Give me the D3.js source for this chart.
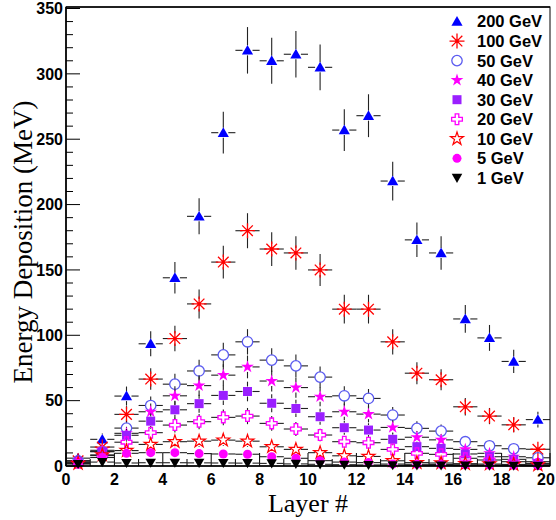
<!DOCTYPE html>
<html><head><meta charset="utf-8">
<script src="https://cdn.jsdelivr.net/npm/d3@7"></script>
<style>body{margin:0;background:#fff}svg{display:block}</style></head>
<body><svg id="c" width="556" height="520"></svg>
<script>
const layers = [0.5,1.5,2.5,3.5,4.5,5.5,6.5,7.5,8.5,9.5,10.5,11.5,12.5,13.5,14.5,15.5,16.5,17.5,18.5,19.5];
const seriesNames = ["200 GeV","100 GeV","50 GeV","40 GeV","30 GeV","20 GeV","10 GeV","5 GeV","1 GeV"];
const v200 = [6,20.4,53.5,93.5,144,191,255,318,310,315,305,257,268,218,173,163,112.5,98,80,35.5];
const e200 = [2.6,4.5,7.3,9.6,12,13.8,16,17.8,17.6,17.7,17.5,16,16.4,14.8,13.2,12.8,10.6,9.9,8.9,6];
const v100 = [4,14.5,39.5,66.5,97.5,124,156,180,166,163,150,120,120,95,71,66,45.3,38.2,31.5,12.8];
const e100 = [2,3.8,6.3,8.2,9.8,11.1,12.5,13.4,12.9,12.8,12.2,11,11,9.7,8.4,8.1,6.7,6.2,5.7,3.6];
const v50 = [4,11,29,46.3,62.6,72.7,85,95,81,76.6,68,53.7,51.7,39,28.8,26.7,18.6,15.5,13.2,6.3];
const e50 = [2,3.3,5.3,6.8,7.9,8.5,9.2,9.7,9,8.7,8.2,7.3,7.2,6.2,5.4,5.1,4.3,3.9,3.6,2.5];
const v40 = [3,12,25,41.5,53.7,61.5,69.5,75.8,65,60,53,41.5,39.7,29.5,22,20,12.7,9.7,7.1,3.3];
const e40 = [1.7,3.5,5,6.4,7.3,7.9,8.3,8.7,8.1,7.7,7.3,6.4,6.3,5.4,4.7,4.5,3.6,3.1,2.7,1.8];
const v30 = [3,11,23.5,34.3,43,47.7,54,57,48,44,37.7,29.3,27.5,20.4,14.8,13.5,9.2,7.1,5.1,2];
const e30 = [1.7,3.3,4.8,5.8,6.6,6.9,7.3,7.5,6.9,6.6,6.1,5.4,5.2,4.5,3.9,3.7,3,2.7,2.3,1.5];
const v20 = [2.5,8,18.2,25.5,31.3,33.9,37.2,38.2,32.6,28.3,23.7,18.6,17.8,12.7,9.7,8.9,5.9,4.6,3.3,1.5];
const e20 = [1.6,2.8,4.3,5,5.6,5.8,6.1,6.2,5.7,5.3,4.8,4.3,4.2,3.6,3.1,3,2.4,2.1,1.8,1.2];
const v10 = [2,8.5,11.8,16.5,18.6,19,19.8,19,14.7,12.7,10.2,7.8,7.3,4,2.6,2.3,1.8,1.5,1.2,0.8];
const e10 = [1.4,2.9,3.5,4,4.3,4.4,4.4,4.4,3.8,3.6,3.2,2.8,2.8,2.1,1.9,1.8,1.4,1.3,1.1,0.9];
const v5 = [2,6.5,9.7,10.2,10.2,9.5,9.2,9,7.1,5.9,4.1,3,2.6,1.5,1.3,1.2,1,0.8,0.6,0.5];
const e5 = [1.4,2.5,3.1,3.2,3.2,3.1,3,3,2.7,2.4,2,1.8,1.6,1.2,1.1,1.1,1,0.9,0.8,0.7];
const v1 = [1.5,3,2.3,2.5,2.5,2.4,2.3,2.2,2,1.6,1.3,1,0.8,0.6,0.5,0.4,0.3,0.3,0.2,0.2];
const e1 = [1.2,1.7,1.5,1.6,1.6,1.5,1.5,1.5,1.4,1.3,1.1,1,0.9,0.8,0.7,0.6,0.5,0.5,0.4,0.4];
const yTicks = [0,50,100,150,200,250,300,350];
const xTicks = [0,2,4,6,8,10,12,14,16,18,20];

const values = [v200,v100,v50,v40,v30,v20,v10,v5,v1];
const errors = [e200,e100,e50,e40,e30,e20,e10,e5,e1];
const styles = [
  {type:"tri", color:"#0000ff"},
  {type:"ast", color:"#ff0000"},
  {type:"ocircle", color:"#5b5bf0"},
  {type:"star", color:"#ff00ff"},
  {type:"square", color:"#9a1fff"},
  {type:"ocross", color:"#ff00ff"},
  {type:"ostar", color:"#ff0000"},
  {type:"circle", color:"#ff00ff"},
  {type:"dtri", color:"#000000"}
];

const svg = d3.select("#c");
const L = 66, R = 550, T = 8.5, B = 466;
const x = d3.scaleLinear().domain([0,20]).range([L,R]);
const y = d3.scaleLinear().domain([0,350]).range([B,T]);

function drawMarker(g, st, cx, cy) {
  const t = `translate(${cx},${cy})`;
  if (st.type === "tri") {
    g.append("path").attr("d", d3.symbol(d3.symbolTriangle, 54)()).attr("transform", t + " translate(0,1)").attr("fill", st.color);
  } else if (st.type === "dtri") {
    g.append("path").attr("d", d3.symbol(d3.symbolTriangle, 48)()).attr("transform", t + " rotate(180) translate(0,1)").attr("fill", st.color);
  } else if (st.type === "ast") {
    const r = 7.5; let d = "";
    [0,45,90,135].forEach(a => {
      const rad = a*Math.PI/180, dx = r*Math.cos(rad), dy = r*Math.sin(rad);
      d += `M${-dx},${-dy}L${dx},${dy}`;
    });
    g.append("path").attr("d", d).attr("transform", t).attr("stroke", st.color).attr("stroke-width", 1.3).attr("fill","none");
    g.append("circle").attr("cx", cx).attr("cy", cy).attr("r", 1.6).attr("fill", st.color);
  } else if (st.type === "ocircle") {
    g.append("circle").attr("cx", cx).attr("cy", cy).attr("r", 5.2).attr("fill","none").attr("stroke", st.color).attr("stroke-width", 1.3);
  } else if (st.type === "circle") {
    g.append("circle").attr("cx", cx).attr("cy", cy).attr("r", 4.5).attr("fill", st.color);
  } else if (st.type === "square") {
    g.append("rect").attr("x", cx-4.5).attr("y", cy-4.5).attr("width", 9).attr("height", 9).attr("fill", st.color);
  } else if (st.type === "star") {
    g.append("path").attr("d", d3.symbol(d3.symbolStar, 50)()).attr("transform", t).attr("fill", st.color);
  } else if (st.type === "ostar") {
    g.append("path").attr("d", d3.symbol(d3.symbolStar, 52)()).attr("transform", t).attr("fill","none").attr("stroke", st.color).attr("stroke-width", 1.2);
  } else if (st.type === "ocross") {
    g.append("path").attr("d", d3.symbol(d3.symbolCross, 64)()).attr("transform", t).attr("fill","none").attr("stroke", st.color).attr("stroke-width", 1.3);
  }
}

// ticks
const tg = svg.append("g").attr("stroke","#000").attr("stroke-width",1);
d3.range(0,351,10).forEach(v => {
  const len = v % 50 === 0 ? 14 : 7;
  tg.append("line").attr("x1",L).attr("x2",L+len).attr("y1",y(v)).attr("y2",y(v));
});
d3.range(0,21,1).forEach(v => {
  const len = v % 2 === 0 ? 13 : 7;
  tg.append("line").attr("x1",x(v)).attr("x2",x(v)).attr("y1",B).attr("y2",B-len);
});

// data
const dg = svg.append("g");
const gap = 5;
values.forEach((vals, si) => {
  const st = styles[si];
  const g = dg.append("g");
  const bars = g.append("g").attr("stroke","#222").attr("stroke-width",1.1);
  vals.forEach((v, i) => {
    const cx = x(layers[i]), cy = y(v);
    const xl = x(layers[i]-0.5), xr = x(layers[i]+0.5);
    const yt = y(v + errors[si][i]), yb = Math.min(B, y(v - errors[si][i]));
    if (cx - xl > gap) bars.append("line").attr("x1",xl).attr("x2",cx-gap).attr("y1",cy).attr("y2",cy);
    if (xr - cx > gap) bars.append("line").attr("x1",cx+gap).attr("x2",xr).attr("y1",cy).attr("y2",cy);
    if (cy - yt > gap) bars.append("line").attr("x1",cx).attr("x2",cx).attr("y1",yt).attr("y2",cy-gap);
    if (yb - cy > gap) bars.append("line").attr("x1",cx).attr("x2",cx).attr("y1",cy+gap).attr("y2",yb);
  });
  vals.forEach((v, i) => drawMarker(g, st, x(layers[i]), y(v)));
});

// frame
svg.append("rect").attr("x",L).attr("y",7).attr("width",R-L).attr("height",B-7)
  .attr("fill","none").attr("stroke","#000").attr("stroke-width",1);
svg.append("line").attr("x1",L).attr("x2",L).attr("y1",7).attr("y2",B).attr("stroke","#000").attr("stroke-width",1.6);
svg.append("line").attr("x1",L).attr("x2",R).attr("y1",B).attr("y2",B).attr("stroke","#000").attr("stroke-width",1.6);
svg.append("line").attr("x1",L).attr("x2",R).attr("y1",7).attr("y2",7).attr("stroke","#000").attr("stroke-width",1.6);

// tick labels
const lf = "'Liberation Sans', Arial, sans-serif";
yTicks.forEach(v => {
  svg.append("text").attr("x", L-3).attr("y", y(v)).attr("dy","0.36em")
    .attr("text-anchor","end").attr("font-family",lf).attr("font-weight","bold").attr("font-size",16).text(v);
});
xTicks.forEach(v => {
  svg.append("text").attr("x", Math.min(x(v), 546)).attr("y", 485)
    .attr("text-anchor","middle").attr("font-family",lf).attr("font-weight","bold").attr("font-size",16).text(v);
});

// titles
const sf = "'Liberation Serif', 'Times New Roman', serif";
svg.append("text").attr("x", 308).attr("y", 512).attr("text-anchor","middle")
  .attr("font-family",sf).attr("font-size",26).text("Layer #");
svg.append("text").attr("transform","translate(32,242) rotate(-90)").attr("text-anchor","middle")
  .attr("font-family",sf).attr("font-size",27).text("Energy Deposition (MeV)");

// legend
const lg = svg.append("g");
seriesNames.forEach((name, i) => {
  const cy = 21.5 + i*19.55;
  drawMarker(lg, styles[i], 457, cy);
  lg.append("text").attr("x", 477).attr("y", cy).attr("dy","0.36em")
    .attr("font-family",lf).attr("font-weight","bold").attr("font-size",16.5).text(name);
});
</script></body></html>
